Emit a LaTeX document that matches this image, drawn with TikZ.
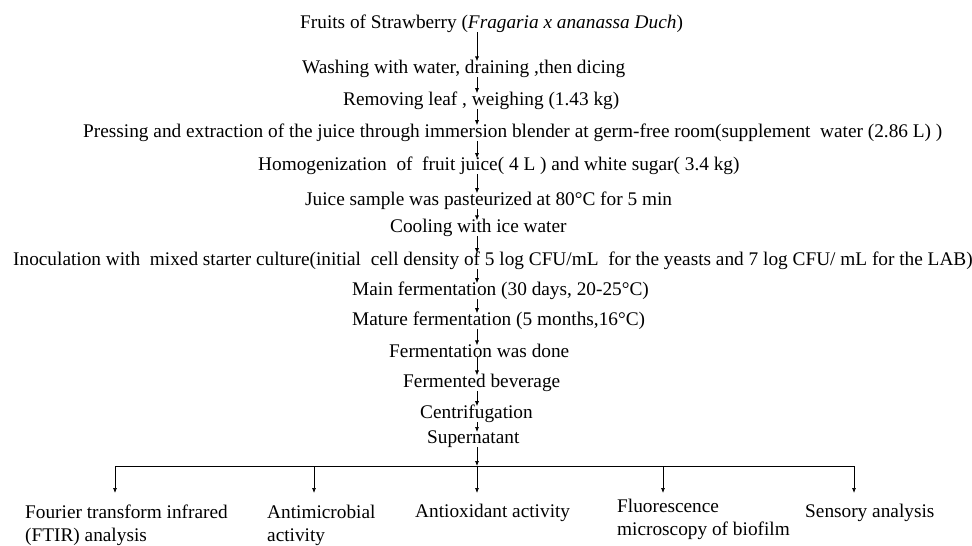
\documentclass[tikz,border=0pt]{standalone}
\usepackage{fontspec}
\setmainfont{Liberation Serif}
\usetikzlibrary{arrows.meta}
\begin{document}
\begin{tikzpicture}[x=1pt,y=-1pt,
    every node/.style={inner sep=0pt, anchor=base west, align=left,
      font=\fontsize{19.3}{22.5}\selectfont},
    flow/.style={-{Latex[length=5pt,width=4pt]}, line width=0.7pt}]
    \useasboundingbox (0,0) rectangle (972,546);
    \coordinate (spine) at (477,0);
    % process steps
    \node (fruit) at (300,28) {Fruits of Strawberry (\textit{Fragaria x ananassa Duch})};
    \node (wash)  at (302,73) {Washing with water, draining ,then dicing};
    \node (leaf)  at (343,105) {Removing leaf , weighing (1.43 kg)};
    \node (press) at (83,137) {Pressing and extraction of the juice through immersion blender at germ-free room(supplement~ water (2.86 L) )};
    \node (homo)  at (258,170) {Homogenization~ of~ fruit juice( 4 L ) and white sugar( 3.4 kg)};
    \node (past)  at (305,205) {Juice sample was pasteurized at 80°C for 5 min};
    \node (cool)  at (390,232) {Cooling with ice water};
    \node (inoc)  at (13,265) {Inoculation with~ mixed starter culture(initial~ cell density of 5 log CFU/mL~ for the yeasts and 7 log CFU/ mL for the LAB)};
    \node (main)  at (352,295) {Main fermentation (30 days, 20-25°C)};
    \node (mature) at (352,325) {Mature fermentation (5 months,16°C)};
    \node (done)  at (389,357) {Fermentation was done};
    \node (bev)   at (403,387) {Fermented beverage};
    \node (centr) at (420,418) {Centrifugation};
    \node (super) at (427,443) {Supernatant};
    \foreach \a/\b in {fruit/wash, wash/leaf, leaf/press, press/homo, homo/past,
      past/cool, cool/inoc, inoc/main, main/mature, mature/done, done/bev,
      bev/centr, centr/super}
      \draw[flow, shorten >=-2pt] (\a.south -| spine) -- (\b.north -| spine);
    % analyses
    \coordinate (hub) at (477,466);
    \coordinate (t1) at (115,493);
    \coordinate (t2) at (314,493);
    \coordinate (t3) at (477,493);
    \coordinate (t4) at (663,493);
    \coordinate (t5) at (854,493);
    \draw[flow] (super.south -| hub) -- (hub);
    \draw[line width=0.7pt] (t1 |- hub) -- (t5 |- hub);
    \foreach \t in {t1,t2,t3,t4,t5}
      \draw[flow] (\t |- hub) -- (\t);
    \node (ftir)  at (25,541) {Fourier transform infrared\\(FTIR) analysis};
    \node (micro) at (267,541) {Antimicrobial\\activity};
    \node (oxid)  at (415,517) {Antioxidant activity};
    \node (fluo)  at (617,535) {Fluorescence\\microscopy of biofilm};
    \node (sens)  at (805,517) {Sensory analysis};
\end{tikzpicture}
\end{document}
